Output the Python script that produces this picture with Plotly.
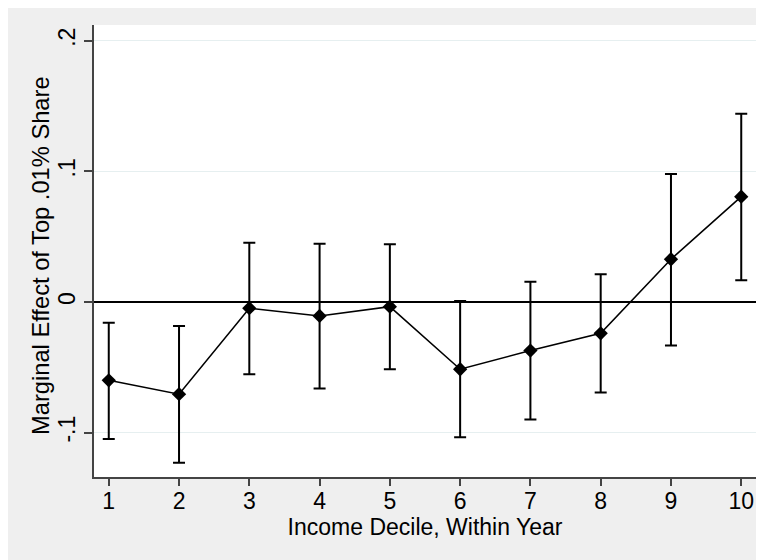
import plotly.graph_objects as go

deciles = [1, 2, 3, 4, 5, 6, 7, 8, 9, 10]
coef = [-0.060, -0.0706, -0.0048, -0.0107, -0.0036, -0.0515, -0.0372, -0.024, 0.0327, 0.0806]
ci_low = [-0.105, -0.123, -0.0553, -0.0663, -0.0515, -0.1035, -0.090, -0.0694, -0.0334, 0.0166]
ci_high = [-0.016, -0.0184, 0.0454, 0.0446, 0.0441, 0.0008, 0.0155, 0.0212, 0.098, 0.144]
y_ticks = [-0.1, 0, 0.1, 0.2]
y_ticklabels = ["-.1", "0", ".1", ".2"]
x_title = "Income Decile, Within Year"
y_title = "Marginal Effect of Top .01% Share"

err_plus = [h - c for h, c in zip(ci_high, coef)]
err_minus = [c - l for c, l in zip(coef, ci_low)]

FONT = "Liberation Sans, Arial, sans-serif"

fig = go.Figure()
fig.add_trace(go.Scatter(
    x=deciles, y=coef, mode="lines+markers",
    line=dict(color="black", width=1.6),
    marker=dict(symbol="diamond", size=11, color="black"),
    error_y=dict(type="data", symmetric=False, array=err_plus, arrayminus=err_minus,
                 color="black", thickness=2, width=6),
    showlegend=False,
    cliponaxis=False,
))

W, H = 764, 560
L, R, T, B = 86, 16, 17, 91
pw, ph = W - L - R, H - T - B

fig.update_layout(
    width=W, height=H,
    margin=dict(l=L, r=R, t=T, b=B, pad=0),
    paper_bgcolor="#efefef", plot_bgcolor="white",
    font=dict(family=FONT, size=23, color="black"),
    xaxis=dict(
        range=[0.79, 10.21], tickmode="array", tickvals=deciles,
        ticktext=[str(d) for d in deciles],
        showgrid=False, zeroline=False,
        showline=True, linecolor="#444444", linewidth=1.5,
        ticks="outside", ticklen=7, tickwidth=1.5, tickcolor="#444444",
        tickfont=dict(size=23), ticklabelstandoff=-4,
        title=dict(text=x_title, font=dict(size=23), standoff=0),
    ),
    yaxis=dict(
        range=[-0.134, 0.212], tickmode="array", tickvals=y_ticks, ticktext=y_ticklabels,
        tickangle=-90,
        showgrid=True, gridcolor="#e6eff0", gridwidth=1.2,
        zeroline=True, zerolinecolor="black", zerolinewidth=2,
        showline=True, linecolor="#444444", linewidth=1.5,
        ticks="outside", ticklen=8, tickwidth=1.5, tickcolor="#444444",
        tickfont=dict(size=23),
    ),
    annotations=[dict(
        text=y_title, textangle=-90, showarrow=False,
        xref="paper", yref="paper",
        x=(33 - L) / pw, y=(H - B - 248) / ph,
        xanchor="center", yanchor="middle",
        font=dict(size=23.7, family=FONT, color="black"),
    )],
)

fig.write_html("out.html")
